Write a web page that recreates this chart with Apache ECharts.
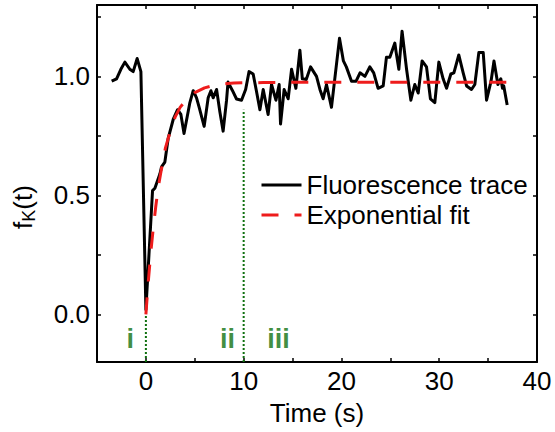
<!DOCTYPE html>
<html><head><meta charset="utf-8">
<script src="https://cdn.jsdelivr.net/npm/echarts@6/dist/echarts.min.js"></script>
<style>html,body{margin:0;padding:0;background:#fff}#c{width:555px;height:432px}</style>
</head><body><div id="c"></div>
<script>
// Fluorescence trace (time in s, normalised signal)
const traceTime = [-3.5,-3.0,-2.56,-2.15,-1.64,-1.3,-0.89,-0.51,0.0,0.68,0.92,1.43,1.6,1.94,2.28,2.8,3.24,3.58,3.9,4.5,4.84,5.18,5.45,5.96,6.37,6.65,6.88,7.23,7.57,7.9,8.25,8.4,8.86,9.27,9.78,10.2,10.55,10.97,11.3,11.66,12.0,12.5,12.85,13.3,13.63,13.77,14.14,14.55,14.9,15.34,15.75,16.0,16.4,16.84,17.45,17.8,18.13,18.47,18.98,19.8,20.2,20.5,21.03,21.5,21.9,22.4,22.9,23.3,23.75,24.27,24.6,24.95,25.46,25.6,25.87,26.2,26.66,27.1,27.5,27.85,28.25,28.7,29.1,29.55,29.96,30.4,30.75,31.19,31.5,32.0,32.45,32.8,33.3,33.64,34.05,34.5,34.84,35.3,35.6,36.0,36.3,36.47,36.6,36.95];
const traceValue = [0.98,0.99,1.03,1.06,1.03,1.02,1.075,1.02,0.02,0.52,0.53,0.59,0.62,0.64,0.74,0.82,0.86,0.84,0.76,0.89,0.94,0.91,0.87,0.79,0.91,0.94,0.91,0.945,0.85,0.77,0.90,0.976,0.94,0.905,0.90,0.945,1.02,1.01,0.94,0.86,0.945,0.84,0.966,0.90,0.966,0.80,0.945,0.906,1.03,0.95,1.11,0.99,0.987,1.04,1.00,0.945,0.906,0.966,0.87,1.16,1.065,1.04,0.98,0.98,1.015,1.00,1.04,1.015,0.95,0.96,1.08,1.08,1.14,1.10,1.03,1.19,1.03,0.90,0.966,0.93,1.065,1.04,0.906,0.89,1.06,0.99,0.95,1.01,1.015,1.09,1.015,0.96,0.945,0.966,1.10,1.10,0.90,0.98,1.065,0.966,0.99,0.95,0.96,0.88];
// Exponential fit
const fitTime = [0,0.25,0.5,0.75,1.0,1.25,1.5,2.0,2.5,3.0,3.5,4.0,4.5,5.0,6.0,7.0,8.0,9.0,10,12,15,20,25,30,37];
const fitValue = [0,0.14,0.26,0.36,0.45,0.53,0.59,0.70,0.77,0.83,0.87,0.895,0.915,0.932,0.952,0.963,0.969,0.972,0.973,0.974,0.975,0.975,0.975,0.975,0.975];
// Phase markers
const phaseLabels = ['i','ii','iii'];
const phaseX = [-1.6, 8.35, 13.55];
const phaseY = [-0.105, -0.105, -0.105];
const guideX = [0, 10];
const guideTop = [0, 0.86];
// Axes
const xMin = -5, xMax = 40, yMin = -0.2, yMax = 1.3;
const xLabelTicks = [0,10,20,30,40];
const xTicks = [0,5,10,15,20,25,30,35,40];
const yLabelTicks = [0,0.5,1.0];
const yTicks = [0,0.25,0.5,0.75,1.0,1.25];
const seriesNames = ['Fluorescence trace','Exponential fit'];

const FONT = 'Liberation Sans, Arial, sans-serif';
const GREEN = '#0f700f';
const RED = '#ee1c1c';
const chart = echarts.init(document.getElementById('c'), null, {renderer:'svg'});

function mkX(pos, labels) {
  return {
    type:'value', position: pos, min:xMin, max:xMax,
    splitLine:{show:false},
    axisLine:{show:true, onZero:false, lineStyle:{color:'#000', width:2}},
    axisTick:{show:true, inside:true, length:4, lineStyle:{color:'#000', width:1.5}, customValues:xTicks},
    axisLabel:{show:labels, customValues:xLabelTicks, color:'#000', fontSize:26, fontFamily:FONT, margin:6,
      formatter: v => String(v)}
  };
}
function mkY(pos, labels) {
  return {
    type:'value', position: pos, min:yMin, max:yMax,
    splitLine:{show:false},
    axisLine:{show:true, onZero:false, lineStyle:{color:'#000', width:2}},
    axisTick:{show:true, inside:true, length:4, lineStyle:{color:'#000', width:1.5}, customValues:yTicks},
    axisLabel:{show:labels, customValues:yLabelTicks, color:'#000', fontSize:26, fontFamily:FONT, margin:7,
      formatter: v => Number(v).toFixed(1)}
  };
}
const xBottom = mkX('bottom', true);
xBottom.name = 'Time (s)';
xBottom.nameLocation = 'middle';
xBottom.nameGap = 38;
xBottom.nameTextStyle = {color:'#000', fontSize:26, fontFamily:FONT};

const series = [];
guideX.forEach((gx, i) => {
  series.push({type:'line', name:'guide'+i, data:[[gx, yMin],[gx, guideTop[i]]], symbol:'none', silent:true,
    lineStyle:{color:GREEN, width:2, type:[2,2]}, z:1});
});
series.push({type:'line', name:seriesNames[0], data: traceTime.map((t,i)=>[t, traceValue[i]]),
  symbol:'none', lineStyle:{color:'#000', width:3, join:'round'}, itemStyle:{color:'#000'}, z:2});
series.push({type:'line', name:seriesNames[1], data: fitTime.map((t,i)=>[t, fitValue[i]]),
  symbol:'none', smooth:false, lineStyle:{color:RED, width:3, type:[17,16]}, itemStyle:{color:RED}, z:3});
series.push({type:'scatter', name:'phases', data: phaseLabels.map((n,i)=>({name:n, value:[phaseX[i], phaseY[i]]})),
  symbolSize:1, itemStyle:{color:'transparent'}, silent:true, z:4,
  label:{show:true, position:'inside', formatter:'{b}', color:GREEN, fontSize:27, fontWeight:'bold', fontFamily:FONT}});

chart.setOption({
  animation:false,
  backgroundColor:'#fff',
  grid:{left:97, right:18, top:5, bottom:70, containLabel:false},
  xAxis:[xBottom, mkX('top', false)],
  yAxis:[mkY('left', true), mkY('right', false)],
  legend:{
    data: seriesNames, orient:'vertical', left:255, top:167, itemWidth:40, itemHeight:14, itemGap:4,
    itemStyle:{opacity:0, borderWidth:0},
    lineStyle:{width:3},
    textStyle:{color:'#000', fontSize:26, fontFamily:FONT}
  },
  graphic:[{
    type:'text', x:23, y:207, rotation:Math.PI/2,
    style:{text:'f{sub|K}(t)', fill:'#000', font:'26px ' + FONT, align:'center', verticalAlign:'middle',
      rich:{sub:{fontSize:18, fontFamily:FONT, fill:'#000', padding:[12,0,0,0]}}}
  }],
  series: series
});
</script></body></html>
